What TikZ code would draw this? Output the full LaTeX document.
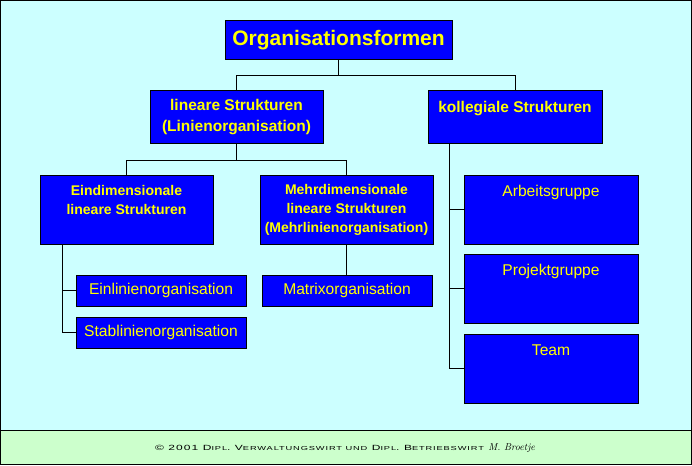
\documentclass[tikz,border=0pt]{standalone}
\usepackage{fontspec}
\newfontfamily\arialfont{Liberation Sans}
\newfontfamily\footfont[FakeStretch=1.6,LetterSpace=15]{Liberation Sans}
\usepackage{tikz}
\definecolor{boxblue}{RGB}{0,0,255}
\definecolor{textyellow}{RGB}{255,255,0}
\definecolor{bgcyan}{RGB}{204,255,255}
\definecolor{bggreen}{RGB}{204,255,204}
\usetikzlibrary{
  positioning,
}
\newcommand{\smallcp}[1]{{\fontsize{5.8}{9}\selectfont #1}}

\begin{document}
\begin{tikzpicture}[x=1pt,y=-1pt,node distance=0mm and 0mm,
  box/.style={draw,rectangle,line width=1pt,fill=boxblue,text=textyellow,inner sep=0pt},
  titlebox/.style={box,font=\arialfont\bfseries\fontsize{21}{25}\selectfont},
  headbox/.style={box,align=center,font=\arialfont\bfseries\fontsize{15.5}{21}\selectfont},
  subbox/.style={box,align=center,font=\arialfont\bfseries\fontsize{14}{19}\selectfont},
  leafbox/.style={box,minimum width=170,minimum height=31,font=\arialfont\fontsize{15.6}{19}\selectfont},
  groupbox/.style={box,minimum width=174,text height=21pt,text depth=48pt,font=\arialfont\fontsize{15.6}{19}\selectfont},
  wire/.style={draw,line width=1pt}]

      \useasboundingbox (0,0) rectangle (692,465);
      \fill[bgcyan] (0,0) rectangle (692,430.5);
      \fill[bggreen] (0,430.5) rectangle (692,465);
      \draw[line width=1pt] (0.5,0.5) rectangle (691.5,464.3);
      \draw[line width=1pt] (0,430.5) -- (692,430.5);

      \node[titlebox,minimum width=227,minimum height=39]    (org)  at (338.5,40.5)  {Organisationsformen};
      \node[headbox,minimum width=173,minimum height=53]     (lin)  at (236.5,117.5) {lineare Strukturen\\(Linienorganisation)};
      \node[headbox,minimum width=174,minimum height=53]     (kol)  at (515,117.5)   {kollegiale Strukturen\\\mbox{}};
      \node[subbox,minimum width=173,minimum height=69]      (ein)  at (126.5,209.5) {Eindimensionale\\lineare Strukturen\\\mbox{}};
      \node[subbox,minimum width=173,minimum height=69]      (mehr) at (346.5,209.5) {Mehrdimensionale\\lineare Strukturen\\(Mehrlinienorganisation)};
      \node[leafbox]    (el)   at (161,290.5)  {Einlinienorganisation};
      \node[leafbox]    (sl)   [below=10pt of el]  {Stablinienorganisation};
      \node[leafbox]    (mx)   at (347,290.5)  {Matrixorganisation};
      \node[groupbox]   (ag)   at (551,209.5)  {Arbeitsgruppe};
      \node[groupbox]   (pg)   [below=9pt of ag]  {Projektgruppe};
      \node[groupbox]   (tm)   [below=10pt of pg]  {Team};

      \draw[wire] (org.south) -- ++(0,15) -| (lin.north);
      \draw[wire] (org.south) ++(0,15) -| (kol.north);
      \draw[wire] (lin.south) -- ++(0,16) -| (ein.north);
      \draw[wire] (lin.south) ++(0,16) -| (mehr.north);
      \draw[wire] ([xshift=-64.5pt]ein.south) |- (el.west);
      \draw[wire] ([xshift=-64.5pt]ein.south) |- (sl.west);
      \draw[wire] (mehr.south) -- (mehr.south |- mx.north);
      \draw[wire] ([xshift=-66pt]kol.south) |- (ag.west);
      \draw[wire] ([xshift=-66pt]kol.south) |- (pg.west);
      \draw[wire] ([xshift=-66pt]kol.south) |- (tm.west);

      \node[font=\footfont\fontsize{7.5}{9}\selectfont] (foot) at (345,448.5)
        {© 2001 D\smallcp{IPL}. V\smallcp{ERWALTUNGSWIRT UND} D\smallcp{IPL}. B\smallcp{ETRIEBSWIRT} {\rmfamily\itshape\fontsize{10}{12}\selectfont M. Broetje}};

    \end{tikzpicture}
\end{document}
